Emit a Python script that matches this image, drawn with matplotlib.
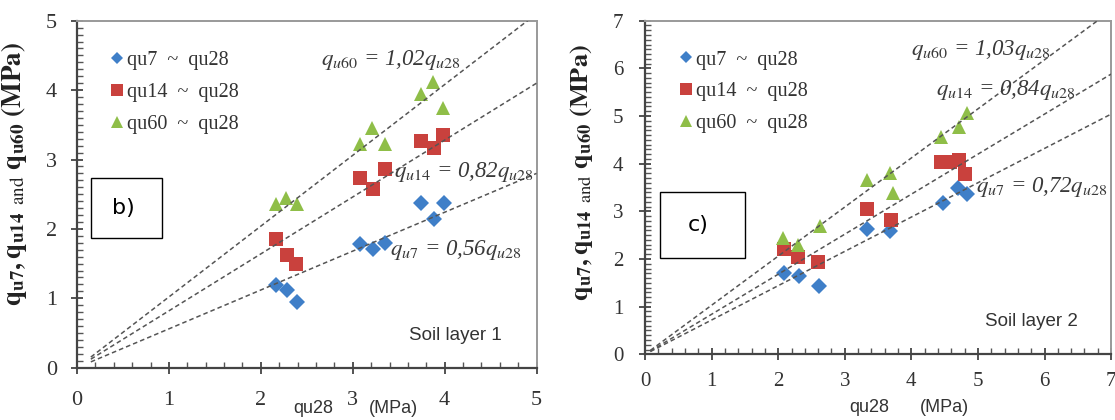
import numpy as np
import matplotlib
matplotlib.use('Agg')
from matplotlib import pyplot as plt
from matplotlib.lines import Line2D
from matplotlib.patches import Rectangle
from matplotlib.ticker import MultipleLocator

plt.rcParams['font.family'] = ['Liberation Serif', 'DejaVu Serif']
plt.rcParams['mathtext.fontset'] = 'stix'

# Soil layer 1 (panel b)
l1_q7_x = [2.16, 2.28, 2.39, 3.08, 3.22, 3.35, 3.74, 3.88, 3.99]
l1_q7_y = [1.19, 1.12, 0.94, 1.78, 1.71, 1.79, 2.37, 2.14, 2.37]
l1_q14_x = [2.17, 2.28, 2.38, 3.08, 3.22, 3.35, 3.74, 3.88, 3.98]
l1_q14_y = [1.85, 1.62, 1.49, 2.73, 2.58, 2.87, 3.26, 3.16, 3.35]
l1_q60_x = [2.16, 2.27, 2.39, 3.08, 3.21, 3.35, 3.74, 3.87, 3.98]
l1_q60_y = [2.36, 2.44, 2.36, 3.23, 3.46, 3.23, 3.95, 4.12, 3.74]
l1_slopes = [0.56, 0.82, 1.02]

# Soil layer 2 (panel c)
l2_q7_x = [2.08, 2.32, 2.62, 3.33, 3.68, 4.48, 4.70, 4.84]
l2_q7_y = [1.70, 1.65, 1.44, 2.63, 2.58, 3.17, 3.48, 3.37]
l2_q14_x = [2.08, 2.30, 2.60, 3.33, 3.69, 4.45, 4.58, 4.72, 4.81]
l2_q14_y = [2.22, 2.05, 1.93, 3.04, 2.82, 4.04, 4.03, 4.08, 3.78]
l2_q60_x = [2.07, 2.30, 2.63, 3.33, 3.68, 3.72, 4.44, 4.71, 4.84]
l2_q60_y = [2.45, 2.29, 2.70, 3.66, 3.80, 3.38, 4.55, 4.78, 5.06]
l2_slopes = [0.72, 0.84, 1.03]

labels = ['qu7  ~  qu28', 'qu14  ~  qu28', 'qu60  ~  qu28']
colors = ['#3f7fc8', '#c9413d', '#8fbe48']
markers = ['D', 's', '^']
msizes = [8, 10.5, 10.5]

fig = plt.figure(figsize=(11.15, 4.2), dpi=100)
ax1 = fig.add_axes([0.0691, 0.1245, 0.4121, 0.8262])
ax2 = fig.add_axes([0.5785, 0.1564, 0.4180, 0.7943])


def draw_panel(ax, series, slopes, xmax, ymax, x0):
    for (xs, ys), c, m, ms in zip(series, colors, markers, msizes):
        ax.plot(xs, ys, linestyle='none', marker=m, color=c, markersize=ms,
                markeredgewidth=0, zorder=2)
    xx = np.linspace(x0, xmax, 50)
    for k in slopes:
        ax.plot(xx, k * xx, linestyle=(0, (3, 2)), color='#555555', lw=1.1, zorder=3)
    ax.set_xlim(0, xmax)
    ax.set_ylim(0, ymax)
    ax.xaxis.set_major_locator(MultipleLocator(1))
    ax.xaxis.set_minor_locator(MultipleLocator(0.2))
    ax.yaxis.set_major_locator(MultipleLocator(1))
    ax.yaxis.set_minor_locator(MultipleLocator(0.1))
    ax.tick_params(which='major', direction='inout', length=9, width=1.3, color='#444444')
    ax.tick_params(which='minor', direction='in', length=4, width=1, color='#555555')
    ax.tick_params(axis='both', which='major', labelcolor='#333333')
    for s in ['left', 'bottom']:
        ax.spines[s].set_color('#444444')
        ax.spines[s].set_linewidth(1.6)
    for s in ['top', 'right']:
        ax.spines[s].set_color('#999999')
        ax.spines[s].set_linewidth(1.4)
    handles = [Line2D([], [], linestyle='none', marker=m, color=c, markersize=ms * 0.8,
                      markeredgewidth=0) for c, m, ms in zip(colors, markers, msizes)]
    ax.legend(handles, labels, loc='upper left', bbox_to_anchor=(0.055, 0.935), frameon=False,
              fontsize=14.5, handlelength=0.7, handletextpad=0.15, labelspacing=0.62,
              borderaxespad=0, labelcolor='#333333')


draw_panel(ax1, [(l1_q7_x, l1_q7_y), (l1_q14_x, l1_q14_y), (l1_q60_x, l1_q60_y)],
           l1_slopes, 5, 5, 0.15)
draw_panel(ax2, [(l2_q7_x, l2_q7_y), (l2_q14_x, l2_q14_y), (l2_q60_x, l2_q60_y)],
           l2_slopes, 7, 7, 0.08)

ax1.tick_params(axis='both', which='major', labelsize=16)
ax1.tick_params(axis='y', pad=10)
ax1.tick_params(axis='x', pad=12)
ax2.tick_params(axis='both', which='major', labelsize=15)
ax2.tick_params(axis='y', pad=11)
ax2.tick_params(axis='x', pad=8)

ylab = r'$\mathbf{q_{u7}, q_{u14}}$ $_{\rm and}$ $\mathbf{q_{u60}}$ $\mathbf{(MPa)}$'
ax1.set_ylabel(ylab, fontsize=19.5, fontweight='bold', color='#222222')
ax1.yaxis.set_label_coords(-0.105, 0.56)
ax2.set_ylabel(ylab, fontsize=19, fontweight='bold', color='#222222')
ax2.yaxis.set_label_coords(-0.107, 0.545)

# x-axis captions
cap_kw = dict(family='Liberation Sans', fontsize=13, color='#333333', ha='center', va='center')
ax1.text(0.514, -0.117, 'qu28', transform=ax1.transAxes, **cap_kw)
ax1.text(0.688, -0.117, '(MPa)', transform=ax1.transAxes, **cap_kw)
ax2.text(0.481, -0.16, 'qu28', transform=ax2.transAxes, **cap_kw)
ax2.text(0.642, -0.16, '(MPa)', transform=ax2.transAxes, **cap_kw)

# equations
eq_kw = dict(fontsize=16.5, color='#3a3a3a', ha='left', va='center', style='italic', zorder=4)
ax1.text(2.65, 4.43, r'$q_{u60}$ = 1,02$q_{u28}$', **eq_kw)
ax1.text(3.45, 2.82, r'$q_{u14}$ = 0,82$q_{u28}$', **eq_kw)
ax1.text(3.40, 1.70, r'$q_{u7}$ = 0,56$q_{u28}$', **eq_kw)
ax2.text(4.00, 6.38, r'$q_{u60}$ = 1,03$q_{u28}$', **eq_kw)
ax2.text(4.37, 5.54, r'$q_{u14}$ = 0,84$q_{u28}$', **eq_kw)
ax2.text(4.97, 3.51, r'$q_{u7}$ = 0,72$q_{u28}$', **eq_kw)

ax1.text(0.925, 0.094, 'Soil layer 1', transform=ax1.transAxes, family='Liberation Sans',
         fontsize=13.5, color='#333333', ha='right', va='center')
ax2.text(0.929, 0.097, 'Soil layer 2', transform=ax2.transAxes, family='Liberation Sans',
         fontsize=13.5, color='#333333', ha='right', va='center')

# panel tags
for ax, tag, box in [(ax1, 'b)', (0.030, 0.374, 0.155, 0.173)),
                     (ax2, 'c)', (0.032, 0.289, 0.183, 0.198))]:
    ax.add_patch(Rectangle(box[:2], box[2], box[3], transform=ax.transAxes,
                           facecolor='white', edgecolor='black', lw=1, zorder=5))
    ax.text(box[0] + box[2] * 0.45, box[1] + box[3] / 2, tag, transform=ax.transAxes,
            family='DejaVu Sans', fontsize=16, ha='center', va='center', zorder=6)

fig.savefig('out.png', dpi=100)
